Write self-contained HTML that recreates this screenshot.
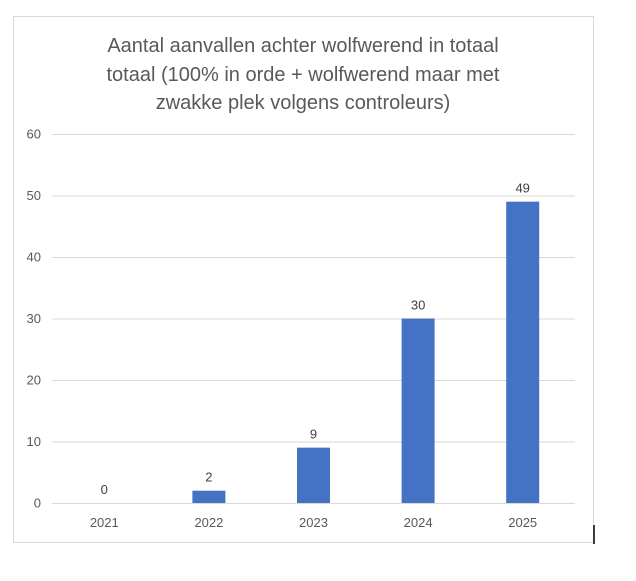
<!DOCTYPE html>
<html><head><meta charset="utf-8"><style>
html,body{margin:0;padding:0;background:#fff;width:636px;height:581px;overflow:hidden}
svg{display:block}
text{font-family:"Liberation Sans",sans-serif}
</style></head><body>
<svg id="chart" width="636" height="581">
<rect x="13.5" y="16.5" width="580" height="526" fill="#fff" stroke="#d9d9d9"/>
<line x1="594" y1="525" x2="594" y2="544" stroke="#000" stroke-width="1.5"/>
<g fill="#595959" font-size="20" text-anchor="middle">
<text x="303" y="52">Aantal aanvallen achter wolfwerend in totaal</text>
<text x="303" y="81">totaal (100% in orde + wolfwerend maar met</text>
<text x="303" y="109">zwakke plek volgens controleurs)</text>
</g>
<g id="grid"></g><g id="bars"></g>
</svg>
<script>
const categories=["2021","2022","2023","2024","2025"];
const values=[0,2,9,30,49];
const yTicks=[0,10,20,30,40,50,60];
const NS="http://www.w3.org/2000/svg";
const x0=52,x1=575,yBase=503,yTop=134,yMax=60;
const y=v=>yBase-(v/yMax)*(yBase-yTop);
const band=(x1-x0)/categories.length;
const xc=i=>x0+band*(i+0.5);
const grid=document.getElementById('grid'),bars=document.getElementById('bars');
function mk(tag,attrs,parent){const e=document.createElementNS(NS,tag);for(const k in attrs)e.setAttribute(k,attrs[k]);parent.appendChild(e);return e;}
yTicks.forEach(t=>{
  const l=mk('line',{x1:x0,x2:x1,y1:y(t)+0.5,y2:y(t)+0.5,stroke:'#d9d9d9'},grid);
  
  
  const tx=mk('text',{x:41,y:y(t)+4.5,'text-anchor':'end','font-size':'13',fill:'#595959'},grid);
  tx.textContent=t;
  
  
});
const bw=33;
categories.forEach((c,i)=>{
  const v=values[i];
  const r=mk('rect',{x:xc(i)-bw/2,y:y(v),width:bw,height:yBase-y(v),fill:'#4472c4'},bars);
  
  
  const lb=mk('text',{x:xc(i),y:y(v)-9,'text-anchor':'middle','font-size':'13',fill:'#404040'},bars);
  lb.textContent=v;
  
  
  const xl=mk('text',{x:xc(i),y:527,'text-anchor':'middle','font-size':'13',fill:'#595959'},bars);
  xl.textContent=c;
  
  
});
</script>
</body></html>
